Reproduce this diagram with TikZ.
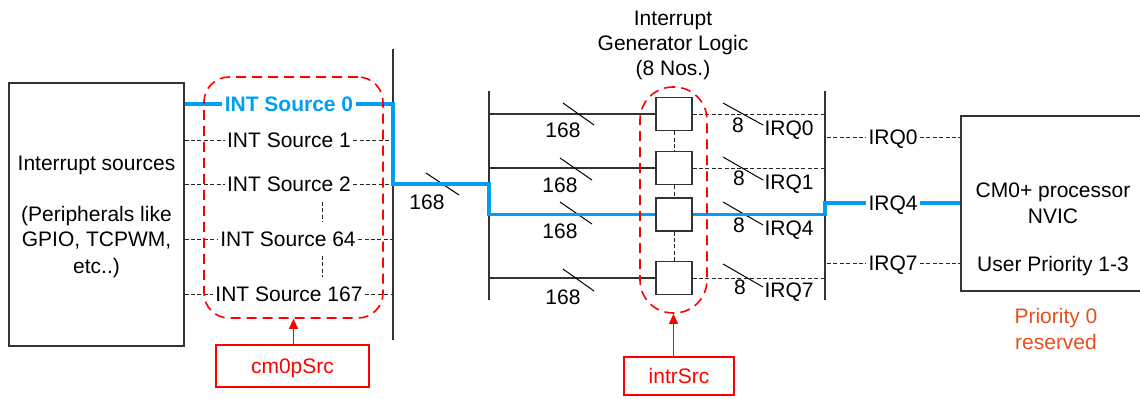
\documentclass[tikz,border=0pt]{standalone}
\usepackage{fontspec}
\setmainfont{Liberation Sans}
\usetikzlibrary{arrows.meta}
\definecolor{busblue}{RGB}{0,158,245}
\definecolor{hlred}{RGB}{255,0,0}
\definecolor{prio}{RGB}{230,80,30}
\begin{document}
\begin{tikzpicture}[x=0.5pt,y=-0.5pt,
  every node/.style={font=\fontsize{10.5}{12.6}\selectfont},
  txt/.style={inner sep=0pt, inner xsep=1pt, text height=7.5pt, text depth=0pt},
  sig/.style={draw=black!85, dash pattern=on 2pt off 1.2pt, line width=0.5pt},
  bus/.style={draw=black!80, line width=0.6pt},
  hl/.style={draw=busblue, line width=1.6pt},
  grp/.style={draw=hlred, line width=0.8pt, dash pattern=on 5pt off 3pt},
  tag/.style={txt, draw=hlred, line width=1pt, text=hlred},
  blk/.style={draw=black!80, line width=0.6pt, inner sep=0pt},
  tick/.style={draw=black, line width=0.5pt}
]
\useasboundingbox (0,0) rectangle (1140,398);

% vertical bus bars
\coordinate (b1t) at (393,49);  \coordinate (b1b) at (393,340);
\coordinate (b2t) at (489,91);  \coordinate (b2b) at (489,300);
\coordinate (b3t) at (825,91);  \coordinate (b3b) at (825,300);
\coordinate (rq) at (827,0);
\draw[bus] (b1t) -- (b1b);
\draw[bus] (b2t) -- (b2b);
\draw[bus] (b3t) -- (b3b);

% left block
\node[blk, minimum width=87.5pt, minimum height=131.5pt] (src) at (96.5,214.5) {};
\node[txt] (st1) at (96.5,163) {Interrupt sources};
\node[txt] (st2) at (96.5,214) {(Peripherals like};
\node[txt] (st3) at (96.5,239) {GPIO, TCPWM,};
\node[txt] (st4) at (96.5,266) {etc..)};

% interrupt source labels
\node[txt, text=busblue, font=\fontsize{10.5}{12.6}\selectfont\bfseries] (s0) at (289,104) {INT Source 0};
\node[txt] (s1) at (289,140) {INT Source 1};
\node[txt] (s2) at (289,184) {INT Source 2};
\node[txt] (s64) at (288,239) {INT Source 64};
\node[txt] (s167) at (289,294) {INT Source 167};
\foreach \n in {s1,s2,s64,s167}{
  \draw[sig] (src.east |- \n) -- (\n.west);
  \draw[sig] (\n.east) -- (b1t |- \n);
}
\coordinate (d1a) at (322,202); \coordinate (d1b) at (322,222);
\coordinate (d2a) at (322,256); \coordinate (d2b) at (322,277);
\draw[sig] (d1a) -- (d1b);
\draw[sig] (d2a) -- (d2b);

% generator blocks
\node[blk, minimum width=18pt, minimum height=16.5pt] (g0) at (674,114) {};
\node[blk, minimum width=18pt, minimum height=16.5pt] (g1) at (674,168) {};
\node[blk, minimum width=18pt, minimum height=16.5pt] (g4) at (674,214.5) {};
\node[blk, minimum width=18pt, minimum height=16.5pt] (g7) at (674,278) {};
\foreach \n in {g0,g1,g7}{
  \draw[bus] (b2t |- \n) -- (\n.west);
  \draw[sig] (\n.east) -- (b3t |- \n);
}
\draw[sig] (g0.south) -- (g1.north);
\draw[sig] (g1.south) -- (g4.north);
\draw[sig] (g4.south) -- (g7.north);

% title
\node[txt] (ti1) at (673,18) {Interrupt};
\node[txt] (ti2) at (673,43) {Generator Logic};
\node[txt] (ti3) at (673,68) {(8 Nos.)};

% bus width ticks and labels
\draw[tick] (426,173) -- (459,195);
\node[txt] (w0) at (427,202) {168};
\draw[tick] (563,103) -- (594,125);
\draw[tick] (560,158) -- (592,180);
\draw[tick] (560,202) -- (592,224);
\draw[tick] (563,269) -- (594,291);
\node[txt] (w1) at (563,130) {168};
\node[txt] (w2) at (560,185) {168};
\node[txt] (w3) at (560,231) {168};
\node[txt] (w4) at (563,297) {168};
\draw[tick] (723,103) -- (763,125);
\draw[tick] (723,157) -- (763,180);
\draw[tick] (723,202) -- (763,225);
\draw[tick] (723,264) -- (763,287);
\node[txt] (e0) at (738,125) {8};
\node[txt] (e1) at (739,178) {8};
\node[txt] (e4) at (739,225) {8};
\node[txt] (e7) at (740,287) {8};
\node[txt] (i0) at (789,128) {IRQ0};
\node[txt] (i1) at (789,182) {IRQ1};
\node[txt] (i4) at (789,228) {IRQ4};
\node[txt] (i7) at (789,290) {IRQ7};

% CPU block
\node[blk, minimum width=99.5pt, minimum height=87.5pt] (cpu) at (1060.5,203.5) {};
\node[txt] (c1) at (1053,190) {CM0+ processor};
\node[txt] (c2) at (1053,216) {NVIC};
\node[txt] (c3) at (1053,264) {User Priority 1-3};
\node[txt, text=prio] (p0) at (1056,316) {Priority 0};
\node[txt, text=prio] (p1) at (1056,342) {reserved};

\node[txt] (q0) at (893,137) {IRQ0};
\node[txt] (q4) at (893,203) {IRQ4};
\node[txt] (q7) at (893,263) {IRQ7};
\foreach \n in {q0,q7}{
  \draw[sig] (rq |- \n) -- (\n.west);
  \draw[sig] (\n.east) -- (cpu.west |- \n);
}

% highlighted path
\draw[hl] (src.east |- s0) -- (s0.west);
\draw[hl] (s0.east) -- (b1t |- s0) -- (b1t |- s2) -- (b2t |- s2) -- (b2t |- g4) -- (g4.west);
\draw[hl] (g4.east) -- (b3t |- g4) -- (b3t |- q4) -- (q4.west);
\draw[hl] (q4.east) -- (cpu.west |- q4);

% red groups and tags
\node[grp, rounded corners=12.5pt, minimum width=89.5pt, minimum height=120.5pt, inner sep=0pt] (cgrp) at (293.5,197.5) {};
\node[grp, rounded corners=16.5pt, minimum width=33.5pt, minimum height=113pt, inner sep=0pt] (ggrp) at (673.5,200) {};
\node[tag, minimum width=76.5pt, minimum height=21pt] (cm) at (292.5,366) {cm0pSrc};
\node[tag, minimum width=55pt, minimum height=19pt] (is) at (679,376) {intrSrc};
\draw[hlred, line width=0.5pt, -{Triangle[length=5pt,width=4.5pt]}] (cgrp.south |- cm.north) -- (cgrp.south);
\draw[hlred, line width=0.5pt, -{Triangle[length=5pt,width=4.5pt]}] (ggrp.south |- is.north) -- (ggrp.south);
\end{tikzpicture}
\end{document}
